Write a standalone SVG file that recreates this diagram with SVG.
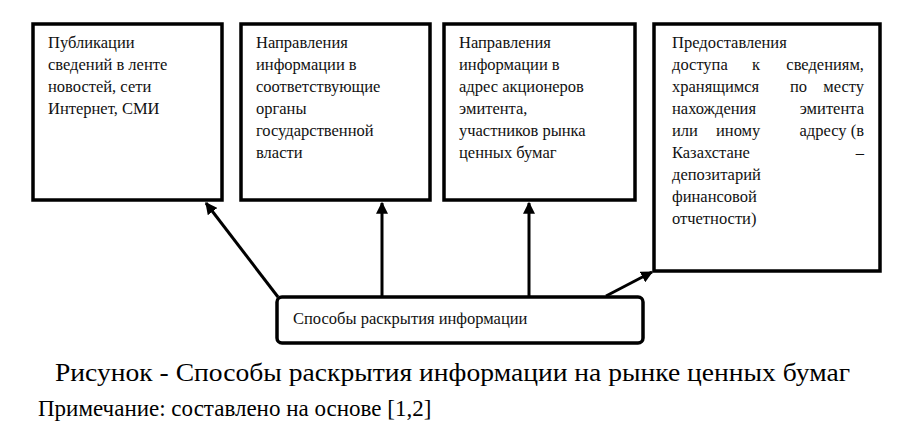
<svg xmlns="http://www.w3.org/2000/svg" width="906" height="436" viewBox="0 0 906 436">
<style>
.box{fill:#fff;stroke:#000;stroke-width:3.5}
.t{font-family:'Liberation Serif','Times New Roman','DejaVu Serif',serif;font-size:16.5px;fill:#111}
.cap{font-family:'Liberation Serif','Times New Roman','DejaVu Serif',serif;font-size:22px;fill:#000}
.c{stroke:#000;stroke-width:3;fill:none;marker-end:url(#a)}
</style>
<defs><marker id="a" viewBox="0 0 10 10" refX="9" refY="5" markerWidth="4" markerHeight="4" orient="auto"><path d="M0,0L10,5L0,10z" fill="#000"/></marker></defs>
<rect width="906" height="436" fill="#fff"/>
<g id="n1"><rect class="box" x="33" y="24" width="189" height="176"/>
<text class="t" x="48" y="48">Публикации</text><text class="t" x="48" y="70">сведений в ленте</text><text class="t" x="48" y="92">новостей, сети</text><text class="t" x="48" y="114">Интернет, СМИ</text></g>
<g id="n2"><rect class="box" x="241" y="24" width="189" height="176"/>
<text class="t" x="256" y="48">Направления</text><text class="t" x="256" y="70">информации в</text><text class="t" x="256" y="92">соответствующие</text><text class="t" x="256" y="114">органы</text><text class="t" x="256" y="136">государственной</text><text class="t" x="256" y="158">власти</text></g>
<g id="n3"><rect class="box" x="444" y="24" width="191" height="176"/>
<text class="t" x="459" y="48">Направления</text><text class="t" x="459" y="70">информации в</text><text class="t" x="459" y="92">адрес акционеров</text><text class="t" x="459" y="114">эмитента,</text><text class="t" x="459" y="136">участников рынка</text><text class="t" x="459" y="158">ценных бумаг</text></g>
<g id="n4"><rect class="box" x="654" y="24" width="226" height="247"/>
<text class="t" x="672" y="48">Предоставления</text>
<text class="t" y="70"><tspan x="672">доступа</tspan><tspan x="752">к</tspan><tspan x="864" text-anchor="end">сведениям,</tspan></text>
<text class="t" y="92"><tspan x="672">хранящимся</tspan><tspan x="790">по</tspan><tspan x="864" text-anchor="end">месту</tspan></text>
<text class="t" y="114"><tspan x="672">нахождения</tspan><tspan x="864" text-anchor="end">эмитента</tspan></text>
<text class="t" y="136"><tspan x="672">или</tspan><tspan x="716">иному</tspan><tspan x="864" text-anchor="end">адресу (в</tspan></text>
<text class="t" x="672" y="158">Казахстане</text><text class="t" x="864" y="158" text-anchor="end">–</text>
<text class="t" x="672" y="180">депозитарий</text><text class="t" x="672" y="202">финансовой</text><text class="t" x="672" y="224">отчетности)</text></g>
<g id="n5"><rect class="box" x="277" y="297" width="366" height="46" rx="5"/>
<text class="t" x="293" y="324">Способы раскрытия информации</text></g>
<g id="connectors">
<line class="c" x1="278" y1="297" x2="206" y2="203"/>
<line class="c" x1="382" y1="297" x2="382" y2="203"/>
<line class="c" x1="529" y1="297" x2="529" y2="203"/>
<line class="c" x1="606" y1="296" x2="652" y2="272"/>
</g>
<text class="cap" x="55" y="381" textLength="795" lengthAdjust="spacingAndGlyphs" style="font-size:25px">Рисунок - Способы раскрытия информации на рынке ценных бумаг</text>
<text class="cap" x="38" y="416" style="font-size:23px">Примечание: составлено на основе [1,2]</text>
</svg>
